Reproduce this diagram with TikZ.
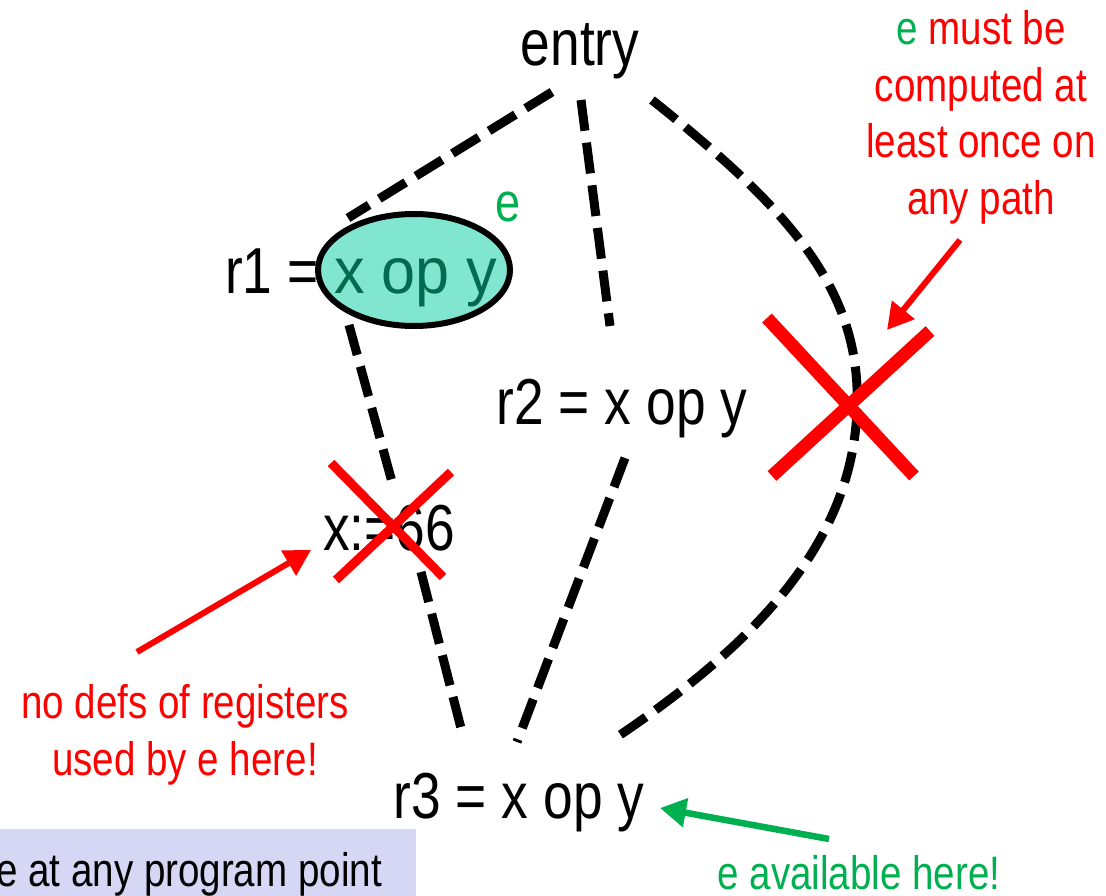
\documentclass[tikz,border=0pt]{standalone}
\usepackage{fontspec}
\setmainfont[FakeStretch=0.82]{Liberation Sans}
\newfontfamily\widerfont[FakeStretch=0.94]{Liberation Sans}
\usetikzlibrary{shapes.geometric,arrows.meta}
\definecolor{myred}{RGB}{255,0,0}
\definecolor{mygreen}{RGB}{0,176,80}
\definecolor{tealfill}{RGB}{128,230,208}
\definecolor{tealtext}{RGB}{0,107,80}
\definecolor{lavender}{RGB}{214,214,245}
\tikzset{
  big/.style={inner sep=0pt,font=\fontsize{65}{78}\selectfont},
  note/.style={inner sep=0pt,font=\fontsize{47}{57}\selectfont,align=center},
  dashline/.style={line width=9pt,dash pattern=on 31pt off 12pt},
  redarrow/.style={myred,line width=6pt,-{Triangle[length=26pt,width=28pt]}},
  greenarrow/.style={mygreen,line width=6.5pt,-{Triangle[length=26pt,width=28pt]}},
  cross/.style={myred,line width=#1},
}
\begin{document}
\begin{tikzpicture}[x=1pt,y=-1pt]
\useasboundingbox (0,0) rectangle (1106,896);
% bottom-left box
\begin{scope}
\clip (0,0) rectangle (1106,896);
\fill[lavender] (-10,829) rectangle (416,906);
\node[note,anchor=base west] (boxtext) at (-4,886) {e at any program point};
\end{scope}
% main nodes
\node[big,anchor=base] (entry) at (580,66) {entry};
\node[big,anchor=base west] (r1lbl) at (225,294) {r1 =};
\node[ellipse,draw=black,line width=6pt,fill=tealfill,minimum width=192pt,minimum height=112pt,inner sep=0pt] (r1) at (414,270) {};
\node[inner sep=0pt,font=\widerfont\fontsize{65}{78}\selectfont,anchor=base,text=tealtext] (r1expr) at (416,294) {x op y};
\node[inner sep=0pt,font=\fontsize{55}{66}\selectfont,text=mygreen,anchor=base] (elbl) at (508,222) {e};
\node[big,anchor=base] (r2) at (622,424) {r2 = x op y};
\node[big,anchor=base] (x66) at (389,550) {x:=66};
\node[big,anchor=base] (r3) at (519,818) {r3 = x op y};
% dashed edges
\coordinate (e1) at (552,92);
\coordinate (r1t) at (348,218);
\coordinate (e2) at (581,100);
\coordinate (r2t) at (610,326);
\coordinate (e3) at (652,100);
\coordinate (r3c) at (620,735);
\coordinate (r1b) at (349,325);
\coordinate (x66t) at (392,482);
\coordinate (x66b) at (421,572);
\coordinate (r3a) at (463,736);
\coordinate (r2b) at (625,458);
\coordinate (r3b) at (517,742);
\draw[dashline] (e1) -- (r1t);
\draw[dashline] (e2) -- (r2t);
\draw[dashline] (r1b) -- (x66t);
\draw[dashline] (x66b) -- (r3a);
\draw[dashline] (r2b) -- (r3b);
\draw[dashline] (e3) .. controls (790,210) and (862,290) .. (857,410) .. controls (852,540) and (760,640) .. (r3c);
% crosses
\draw[cross=9pt] (331,463) -- (443,577);
\draw[cross=9pt] (451,472) -- (336,580);
\coordinate (bigx) at (848,400);
\draw[cross=13pt] (767,318) -- (914,476);
\draw[cross=13pt] (930,331) -- (772,476);
% notes
\node[note,anchor=base,text=myred] (rnote) at (981,215) {\textcolor{mygreen}{e} must be\\computed at\\least once on\\any path};
\node[note,anchor=base,text=myred] (lnote) at (185,775) {no defs of registers\\used by e here!};
\node[note,anchor=base,text=mygreen] (gnote) at (859,889) {e available here!};
% arrows
\coordinate (ra1s) at (137,652);
\coordinate (ra1e) at (311,550);
\draw[redarrow] (ra1s) -- (ra1e);
\coordinate (ra2s) at (960,240);
\coordinate (ra2e) at (887,330);
\draw[redarrow] (ra2s) -- (ra2e);
\coordinate (gas) at (829,839);
\coordinate (gae) at (660,808);
\draw[greenarrow] (gas) -- (gae);
\end{tikzpicture}
\end{document}
